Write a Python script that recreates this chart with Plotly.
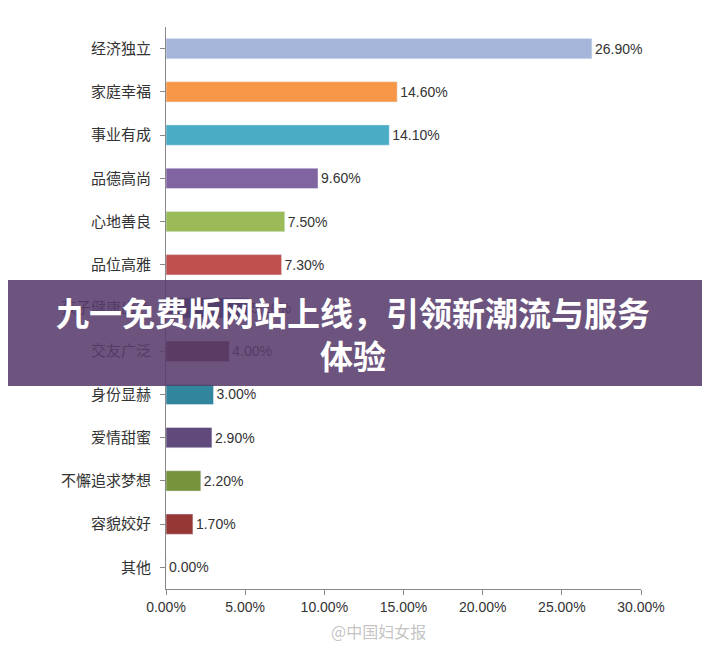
import plotly.graph_objects as go

categories = ["经济独立","家庭幸福","事业有成","品德高尚","心地善良","品位高雅","孩子健康出色","交友广泛","身份显赫","爱情甜蜜","不懈追求梦想","容貌姣好","其他"]
values = [26.9,14.6,14.1,9.6,7.5,7.3,5.2,4.0,3.0,2.9,2.2,1.7,0.0]
colors = ["#a5b5d9","#f79646","#4bacc6","#8064a2","#9bbb59","#c0504d","#2c4d75","#772c2a","#31859c","#5f4a7b","#77933c","#953735","#7f7f7f"]
ticks = [0,5,10,15,20,25,30]

L, R, T, B = 158, 77, 19, 74
PH = 655 - T - B
PW = 710 - L - R

fig = go.Figure(go.Bar(
    y=categories, x=values, orientation="h", marker_color=colors,
    width=0.47, text=[f"{v:.2f}%" for v in values], textposition="outside",
    textfont=dict(size=14, color="#333", family="Liberation Sans"), cliponaxis=False))
fig.update_layout(
    width=710, height=655, plot_bgcolor="white", paper_bgcolor="white",
    margin=dict(l=L, r=R, t=T, b=B), showlegend=False,
    font=dict(family="Noto Sans CJK SC", size=15, color="#333"),
    xaxis=dict(range=[0,30], tickvals=ticks, ticktext=[f"{t:.2f}%" for t in ticks],
               showgrid=False, showline=True, linecolor="#888", ticks="outside",
               tickcolor="#888", ticklen=5, zeroline=False,
               tickfont=dict(family="Liberation Sans", size=14)),
    yaxis=dict(autorange="reversed", showline=True, linecolor="#888", ticks="outside",
               tickcolor="#888", ticklen=5, showgrid=False, ticklabelstandoff=6),
)
fig.add_shape(type="rect", xref="paper", yref="paper", x0=-0.5, x1=1.5,
              y0=(655-B-378)/PH, y1=(655-B-272)/PH,
              fillcolor="rgba(88,60,108,0.88)", line_width=0, layer="above")
fig.add_annotation(xref="paper", yref="paper", x=(345-L)/PW, y=(655-B-325)/PH,
                   text="<b>九一免费版网站上线，引领新潮流与服务<br>体验</b>", showarrow=False,
                   font=dict(size=33, color="white", family="Noto Sans CJK SC"),
                   align="center")
fig.add_annotation(xref="paper", yref="paper", x=(370-L)/PW, y=(655-B-637)/PH,
                   text="@中国妇女报", showarrow=False,
                   font=dict(size=16, color="rgba(180,180,180,0.8)"))
fig.write_html("out.html")
